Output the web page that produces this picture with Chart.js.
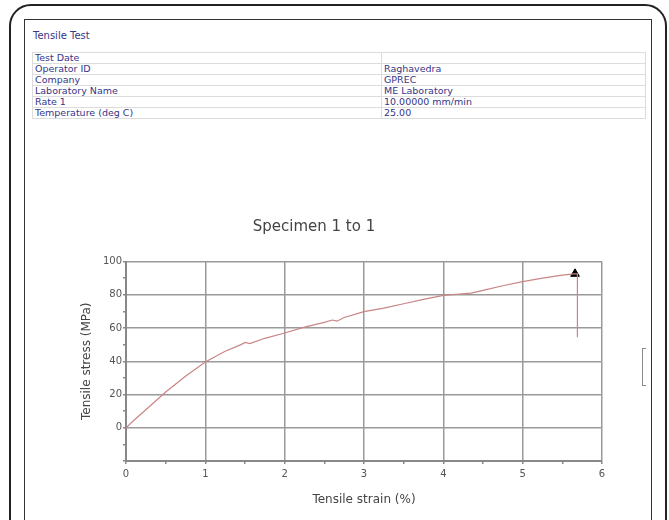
<!DOCTYPE html>
<html>
<head>
<meta charset="utf-8">
<script src="https://cdn.jsdelivr.net/npm/chart.js@4.4.1/dist/chart.umd.min.js"></script>
<style>
  body { margin: 0; background: #fff; width: 669px; height: 520px; overflow: hidden; position: relative; }
  #outer { position: absolute; left: 9px; top: 4px; width: 654px; height: 600px; border: 2px solid #222; border-radius: 22px; }
  #inner { position: absolute; left: 24px; top: 19px; width: 626px; height: 600px; border: 1.5px solid #333; }
  #head { position: absolute; left: 33px; top: 30px; font: 10px "DejaVu Sans"; color: #35358a; }
  #info { position: absolute; left: 32px; top: 52px; width: 614px; border-collapse: collapse; font: 9.5px "DejaVu Sans"; color: #35358a; }
  #info td { border: 1px solid #dcdcdc; height: 10px; line-height: 10px; padding: 0 2px; }
  #info td:first-child { width: 344px; }
  #bracket { position: absolute; left: 642px; top: 348px; width: 3px; height: 36px; border: 1.5px solid #8a8a8a; border-right: none; }
  #wrap { position: absolute; left: 26px; top: 196px; width: 620px; height: 322px; }
</style>
</head>
<body>
<div id="outer"></div>
<div id="inner"></div>
<div id="head">Tensile Test</div>
<table id="info"></table>
<div id="bracket"></div>
<div id="wrap"><canvas id="chart"></canvas></div>
<script>
// header table
let fieldNames = ["Test Date", "Operator ID", "Company", "Laboratory Name", "Rate 1", "Temperature (deg C)"];
let fieldValues = ["", "Raghavedra", "GPREC", "ME Laboratory", "10.00000 mm/min", "25.00"];

// curve
let strain = [0, 0.1, 0.25, 0.5, 0.75, 1.0, 1.25, 1.45, 1.5, 1.56, 1.75, 2.0, 2.25, 2.5, 2.6, 2.66, 2.75, 3.0, 3.25, 3.5, 3.75, 4.0, 4.2, 4.35, 4.5, 4.75, 5.0, 5.25, 5.5, 5.65, 5.69, 5.69];
let stress = [0, 4.5, 10.8, 21.5, 31, 39.5, 46, 50, 51.3, 50.6, 53.8, 57, 60.5, 63.4, 64.8, 64.1, 66.3, 69.8, 72, 74.6, 77.2, 79.6, 80.4, 81, 82.6, 85.4, 87.9, 90, 91.8, 92.5, 92.5, 54.5];
let peakStrain = [5.66];
let peakStress = [92.6];

let xTicks = [0, 1, 2, 3, 4, 5, 6];
let yTicks = [0, 20, 40, 60, 80, 100];

let tbl = document.getElementById("info");
fieldNames.forEach((n, i) => {
  let tr = document.createElement("tr");
  let a = document.createElement("td"); a.textContent = n;
  let b = document.createElement("td"); b.textContent = fieldValues[i];
  tr.appendChild(a); tr.appendChild(b);
  tbl.appendChild(tr);
});

let gridGray = '#9a9a9a';
let ctx = document.getElementById("chart").getContext("2d");
new Chart(ctx, {
  type: 'scatter',
  data: {
    datasets: [
      {
        data: strain.map((x, i) => ({x: x, y: stress[i]})),
        showLine: true,
        borderColor: '#c98585',
        borderWidth: 1.2,
        pointRadius: 0,
        tension: 0
      },
      {
        data: peakStrain.map((x, i) => ({x: x, y: peakStress[i]})),
        pointStyle: 'triangle',
        pointRadius: 5,
        backgroundColor: '#000',
        borderColor: '#000',
        borderWidth: 1
      }
    ]
  },
  options: {
    responsive: true,
    maintainAspectRatio: false,
    animation: false,
    layout: { padding: { left: 0, right: 44, top: 0, bottom: 0 } },
    plugins: {
      legend: { display: false },
      tooltip: { enabled: false },
      title: {
        display: true,
        text: 'Specimen 1 to 1',
        color: '#444',
        font: { family: 'DejaVu Sans', size: 15, weight: 'normal' },
        padding: { top: 22, bottom: 25.5 }
      }
    },
    scales: {
      x: {
        type: 'linear',
        min: 0, max: 6,
        afterFit: s => { s.height = 57; },
        ticks: {
          stepSize: 0.5,
          autoSkip: false,
          maxRotation: 0,
          padding: 4,
          color: '#555',
          font: { family: 'DejaVu Sans', size: 10 },
          callback: v => xTicks.includes(v) ? String(v) : ''
        },
        grid: {
          color: c => xTicks.includes(c.tick.value) && c.tick.value > 0 ? gridGray : 'transparent',
          lineWidth: 1.5,
          tickColor: '#888',
          tickLength: 3
        },
        border: { color: '#888', width: 2 },
        title: {
          display: true,
          text: 'Tensile strain (%)',
          color: '#444',
          font: { family: 'DejaVu Sans', size: 12 },
          padding: { top: 0, bottom: 11 }
        }
      },
      y: {
        type: 'linear',
        min: -20, max: 100,
        afterFit: s => { s.width = 100; },
        ticks: {
          stepSize: 10,
          autoSkip: false,
          padding: 1,
          color: '#555',
          font: { family: 'DejaVu Sans', size: 10 },
          callback: v => yTicks.includes(v) ? String(v) : ''
        },
        grid: {
          color: c => yTicks.includes(c.tick.value) ? gridGray : 'transparent',
          lineWidth: 1.5,
          tickColor: '#888',
          tickLength: 3
        },
        border: { color: '#888', width: 2 },
        title: {
          display: true,
          text: 'Tensile stress (MPa)',
          color: '#444',
          font: { family: 'DejaVu Sans', size: 12 },
          padding: { top: 54, bottom: 0 }
        }
      }
    }
  }
});
</script>
</body>
</html>
